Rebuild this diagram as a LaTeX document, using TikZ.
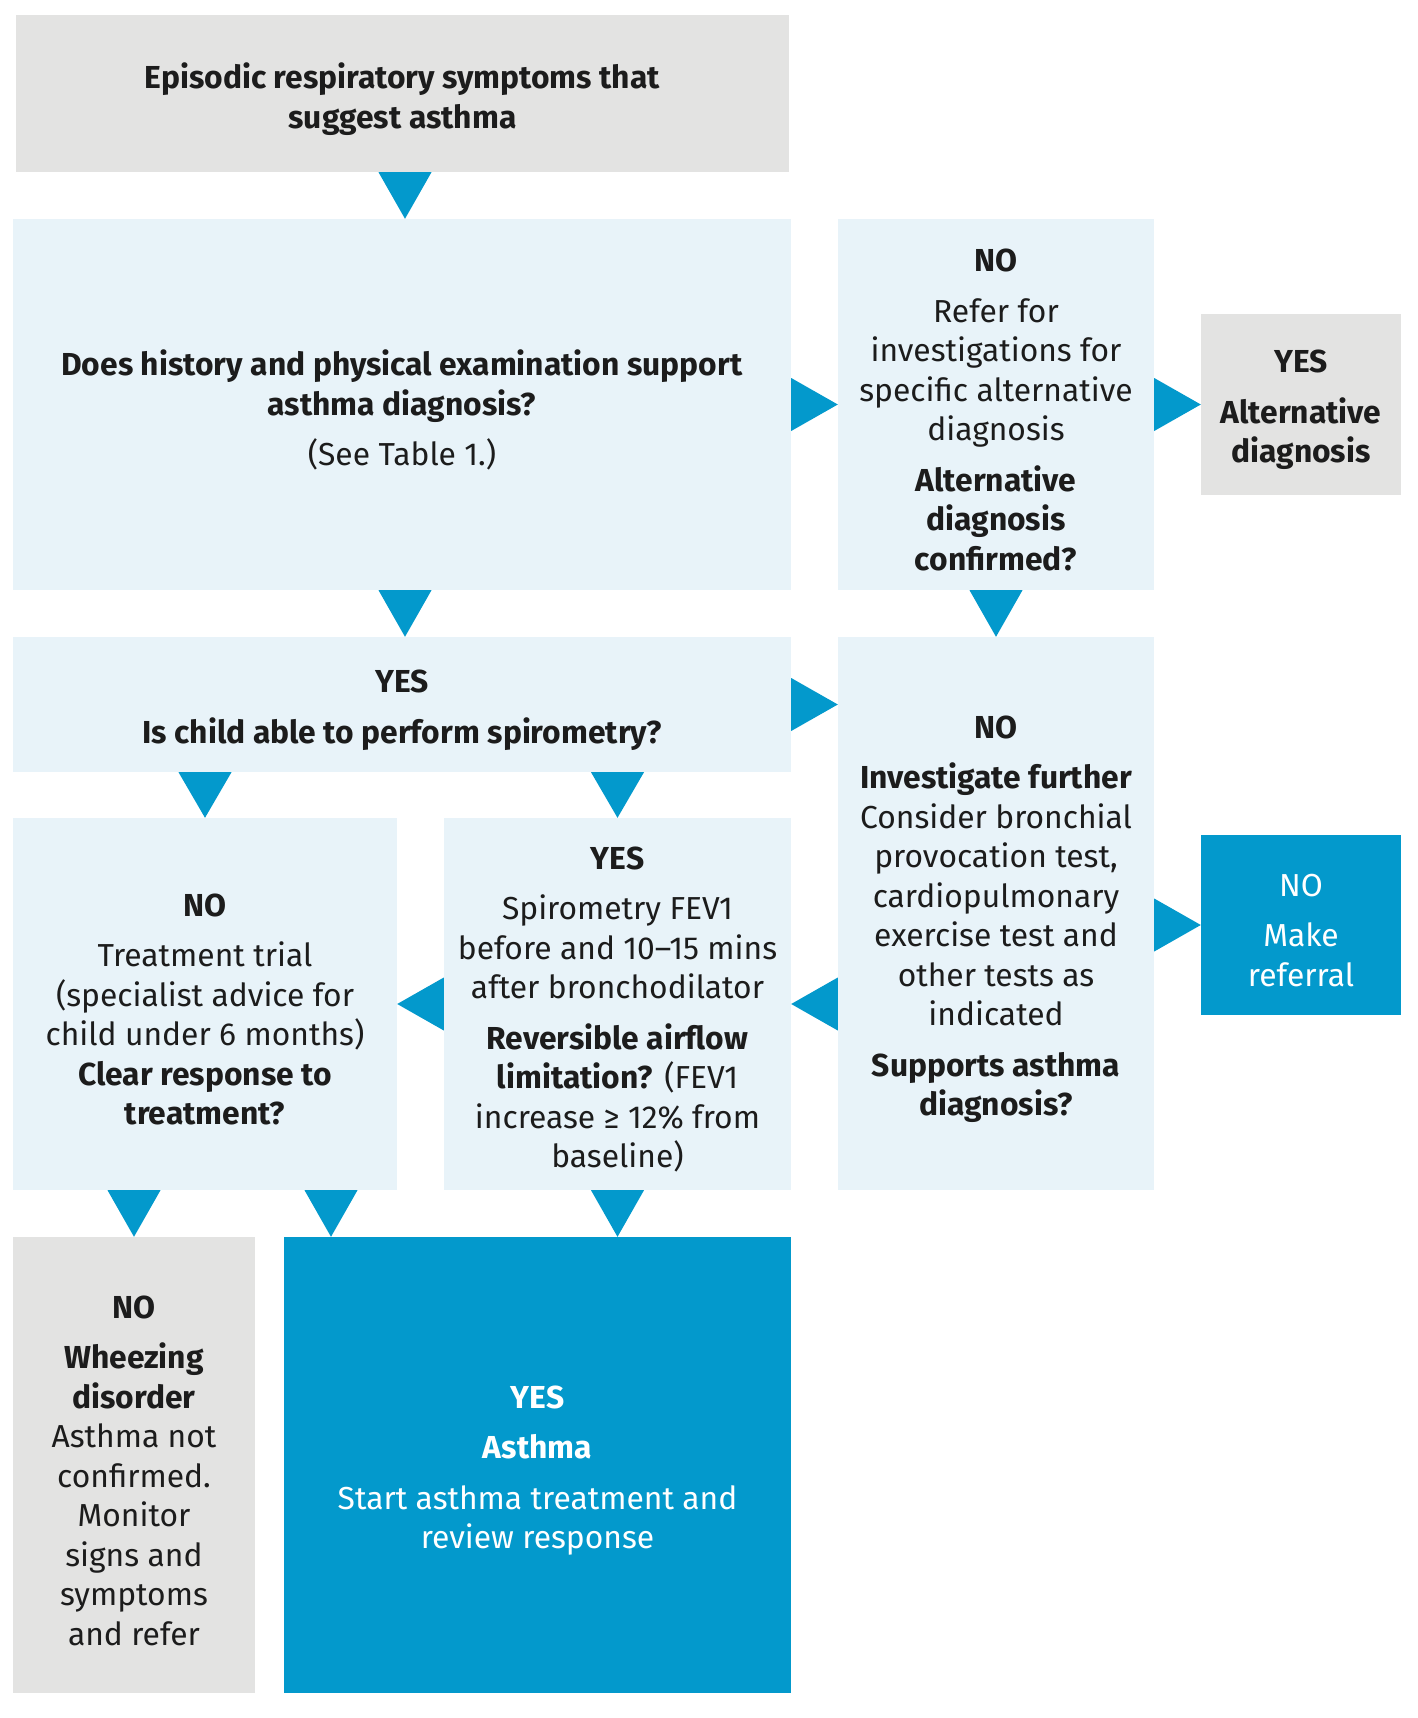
\documentclass[tikz,border=0pt]{standalone}
\usepackage{fontspec}
\setmainfont{Fira Sans}
\usetikzlibrary{calc}
\definecolor{grayc}{HTML}{E3E3E2}
\definecolor{lightc}{HTML}{E8F3F9}
\definecolor{bluec}{HTML}{0399CC}
\definecolor{textc}{HTML}{1C1C1C}
\newcommand\bt[1]{\textbf{#1}}
\tikzset{
 box/.style={rectangle, inner sep=0pt},
 greybox/.style={box, fill=grayc},
 lightbox/.style={box, fill=lightc},
 bluebox/.style={box, fill=bluec},
 txt/.style={inner sep=0pt, align=center, text=textc, font=\fontsize{31.8}{39.5}\selectfont},
 wtxt/.style={txt, text=white},
 tri/.style={fill=bluec},
}
\newcommand\tridown[3]{\fill[tri] ($(#1.south -| #3)+(-26.5,0)$) -- ($(#1.south -| #3)+(26.5,0)$) -- (#2.north -| #3) -- cycle;}
\newcommand\triright[3]{\fill[tri] ($(#1.east |- #3)+(0,-26.5)$) -- ($(#1.east |- #3)+(0,26.5)$) -- (#2.west |- #3) -- cycle;}
\newcommand\trileft[3]{\fill[tri] ($(#1.west |- #3)+(0,-26.5)$) -- ($(#1.west |- #3)+(0,26.5)$) -- (#2.east |- #3) -- cycle;}
\begin{document}
\begin{tikzpicture}[x=1pt,y=-1pt]
\useasboundingbox[fill=white] (0,0) rectangle (1418,1718);
% boxes
\node[greybox, minimum width=773pt, minimum height=157pt] (T) at (402.5,93.5) {};
\node[lightbox, minimum width=778pt, minimum height=371pt] (Q1) at (402,404.5) {};
\node[lightbox, minimum width=316pt, minimum height=371pt] (N1) at (996,404.5) {};
\node[greybox, minimum width=200pt, minimum height=181pt] (ALT) at (1301,404.5) {};
\node[lightbox, minimum width=778pt, minimum height=135pt] (Q2) at (402,704.5) {};
\node[lightbox, minimum width=316pt, minimum height=553pt] (INV) at (996,913.5) {};
\node[lightbox, minimum width=384pt, minimum height=372pt] (TT) at (205,1004) {};
\node[lightbox, minimum width=347pt, minimum height=372pt] (FEV) at (617.5,1004) {};
\node[bluebox, minimum width=200pt, minimum height=180pt] (REF) at (1301,925) {};
\node[greybox, minimum width=242pt, minimum height=456pt] (WH) at (134,1465) {};
\node[bluebox, minimum width=507pt, minimum height=456pt] (AS) at (537.5,1465) {};
% texts
\node[txt] (Tt) at ([yshift=-5.5pt]T.center)
 {\bt{Episodic respiratory symptoms that}\\\bt{suggest asthma}};
\node[txt] (Q1t) at ([yshift=-5.5pt]Q1.center)
 {\bt{Does history and physical examination support}\\\bt{asthma diagnosis?}\\[11pt](See Table 1.)};
\node[txt] (N1t) at ([yshift=-5.5pt]N1.center)
 {\bt{NO}\\[11pt]Refer for\\investigations for\\specific alternative\\diagnosis\\[11pt]\bt{Alternative}\\\bt{diagnosis}\\\bt{confirmed?}};
\node[txt] (ALTt) at ([yshift=-5.5pt]ALT.center)
 {\bt{YES}\\[11pt]\bt{Alternative}\\\bt{diagnosis}};
\node[txt] (Q2t) at ([yshift=-5.5pt]Q2.center)
 {\bt{YES}\\[11pt]\bt{Is child able to perform spirometry?}};
\node[txt] (INVt) at ([yshift=-5.5pt]INV.center)
 {\bt{NO}\\[11pt]\bt{Investigate further}\\Consider bronchial\\provocation test,\\cardiopulmonary\\exercise test and\\other tests as\\indicated\\[11pt]\bt{Supports asthma}\\\bt{diagnosis?}};
\node[txt] (TTt) at ([yshift=-5.5pt]TT.center)
 {\bt{NO}\\[11pt]Treatment trial\\(specialist advice for\\child under 6 months)\\\bt{Clear response to}\\\bt{treatment?}};
\node[txt] (FEVt) at ([yshift=-5.5pt]FEV.center)
 {\bt{YES}\\[11pt]Spirometry FEV1\\before and 10–15 mins\\after bronchodilator\\[11pt]\bt{Reversible airflow}\\\bt{limitation?} (FEV1\\increase ≥ 12\% from\\baseline)};
\node[wtxt] (REFt) at ([yshift=-5.5pt]REF.center)
 {NO\\[11pt]Make\\referral};
\node[txt] (WHt) at ([yshift=-5.5pt]WH.center)
 {\bt{NO}\\[11pt]\bt{Wheezing}\\\bt{disorder}\\Asthma not\\confirmed.\\Monitor\\signs and\\symptoms\\and refer};
\node[wtxt] (ASt) at ([yshift=-5.5pt]AS.center)
 {\bt{YES}\\[11pt]\bt{Asthma}\\[11pt]Start asthma treatment and\\review response};
% connectors
\coordinate (xa) at (331,0);
\coordinate (xt) at (405,0);
\tridown{T}{Q1}{xt}
\tridown{Q1}{Q2}{xt}
\tridown{N1}{INV}{N1}
\tridown{Q2}{TT}{TT}
\tridown{Q2}{FEV}{FEV}
\tridown{TT}{WH}{WH}
\tridown{TT}{AS}{xa}
\tridown{FEV}{AS}{FEV}
\triright{Q1}{N1}{Q1}
\triright{N1}{ALT}{ALT}
\triright{Q2}{INV}{Q2}
\triright{INV}{REF}{REF}
\trileft{INV}{FEV}{FEV}
\trileft{FEV}{TT}{FEV}
\end{tikzpicture}
\end{document}
